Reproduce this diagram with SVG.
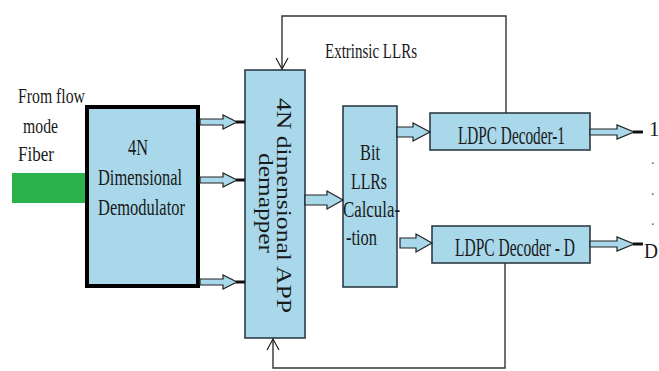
<svg xmlns="http://www.w3.org/2000/svg" width="659" height="371" viewBox="0 0 659 371">
<defs>
<marker id="openv" markerWidth="14" markerHeight="14" refX="12" refY="7" orient="auto" markerUnits="userSpaceOnUse">
<path d="M1,1 L12,7 L1,13" fill="none" stroke="#222" stroke-width="1.2"/>
</marker>
<style>
text{font-family:"Liberation Serif","Times New Roman",serif;font-size:23px;fill:#1a1a1a}
.rot{font-size:21px}
.lab{font-size:21px}
.dec{font-size:26px}
.dot{font-size:14px;fill:#555}
.box{fill:#a8d8ea;stroke:#2e3d47;stroke-width:1.6}
.arr{fill:#a8d8ea;stroke:#222;stroke-width:1.2}
.nub{stroke:#111;stroke-width:3}
.fb{fill:none;stroke:#333;stroke-width:1.4}
</style>
</defs>
<rect width="659" height="371" fill="#fff"/>

<g id="input">
<rect x="12" y="173" width="73" height="30" fill="#2bb24c"/>
<text class="lab" x="18" y="103" textLength="67" lengthAdjust="spacingAndGlyphs">From flow</text>
<text class="lab" x="23" y="133" textLength="35" lengthAdjust="spacingAndGlyphs">mode</text>
<text class="lab" x="18" y="161" textLength="36" lengthAdjust="spacingAndGlyphs">Fiber</text>
</g>

<g id="demodulator">
<rect x="87" y="107" width="111" height="179" fill="#a8d8ea" stroke="#000" stroke-width="4"/>
<text x="128" y="155" textLength="20" lengthAdjust="spacingAndGlyphs">4N</text>
<text x="98" y="185" textLength="84" lengthAdjust="spacingAndGlyphs">Dimensional</text>
<text x="98" y="215" textLength="87" lengthAdjust="spacingAndGlyphs">Demodulator</text>
</g>

<g id="demapper">
<rect class="box" x="245" y="70" width="60" height="268"/>
<text class="rot" transform="translate(277,98) rotate(90)" textLength="215" lengthAdjust="spacingAndGlyphs">4N dimensional APP</text>
<text class="rot" transform="translate(259,153) rotate(90)" textLength="100" lengthAdjust="spacingAndGlyphs">demapper</text>
</g>

<g id="bitllrs">
<rect class="box" x="343" y="106" width="54" height="181"/>
<text x="360" y="160" textLength="20" lengthAdjust="spacingAndGlyphs">Bit</text>
<text x="351" y="189" textLength="36" lengthAdjust="spacingAndGlyphs">LLRs</text>
<text x="343" y="217" textLength="57" lengthAdjust="spacingAndGlyphs">Calcula-</text>
<text x="346" y="245" textLength="31" lengthAdjust="spacingAndGlyphs">-tion</text>
</g>

<g id="decoder1">
<rect class="box" x="430" y="113" width="160" height="37"/>
<text class="dec" x="458" y="144" textLength="107" lengthAdjust="spacingAndGlyphs">LDPC Decoder-1</text>
</g>

<g id="decoderD">
<rect class="box" x="432" y="226" width="158" height="37"/>
<text class="dec" x="455" y="256" textLength="120" lengthAdjust="spacingAndGlyphs">LDPC Decoder - D</text>
</g>

<g id="outputs">
<text class="lab" x="649" y="136">1</text>
<text class="dot" x="651" y="164">.</text>
<text class="dot" x="651" y="195">.</text>
<text class="dot" x="651" y="225">.</text>
<text class="lab" x="644" y="258" textLength="14" lengthAdjust="spacingAndGlyphs">D</text>
</g>

<g id="feedback-label">
<text class="lab" x="325" y="58" textLength="92" lengthAdjust="spacingAndGlyphs">Extrinsic LLRs</text>
</g>

<g id="connectors">
<path class="fb" d="M506,113 V16 H282 V69" marker-end="url(#openv)"/>
<path class="fb" d="M505,263 V368 H273 V339" marker-end="url(#openv)"/>

<path class="arr" d="M200,119 H223 V115 L237,122 L223,129 V125 H200 Z"/>
<line class="nub" x1="236" y1="122" x2="245" y2="122"/>
<path class="arr" d="M200,177 H223 V173 L237,180 L223,187 V183 H200 Z"/>
<line class="nub" x1="236" y1="180" x2="245" y2="180"/>
<path class="arr" d="M200,279 H223 V275 L237,282 L223,289 V285 H200 Z"/>
<line class="nub" x1="236" y1="282" x2="245" y2="282"/>

<path class="arr" d="M305,195 H327 V191 L343,200 L327,209 V205 H305 Z"/>
<path class="arr" d="M397,127 H413 V123 L430,132 L413,141 V137 H397 Z"/>
<path class="arr" d="M400,238 H416 V234 L432,243 L416,252 V248 H400 Z"/>

<path class="arr" d="M590,129 H617 V125 L634,132 L617,139 V135 H590 Z"/>
<line class="nub" x1="633" y1="132" x2="643" y2="132"/>
<path class="arr" d="M590,241 H617 V237 L634,244 L617,251 V247 H590 Z"/>
<line class="nub" x1="633" y1="244" x2="643" y2="244"/>
</g>
</svg>
